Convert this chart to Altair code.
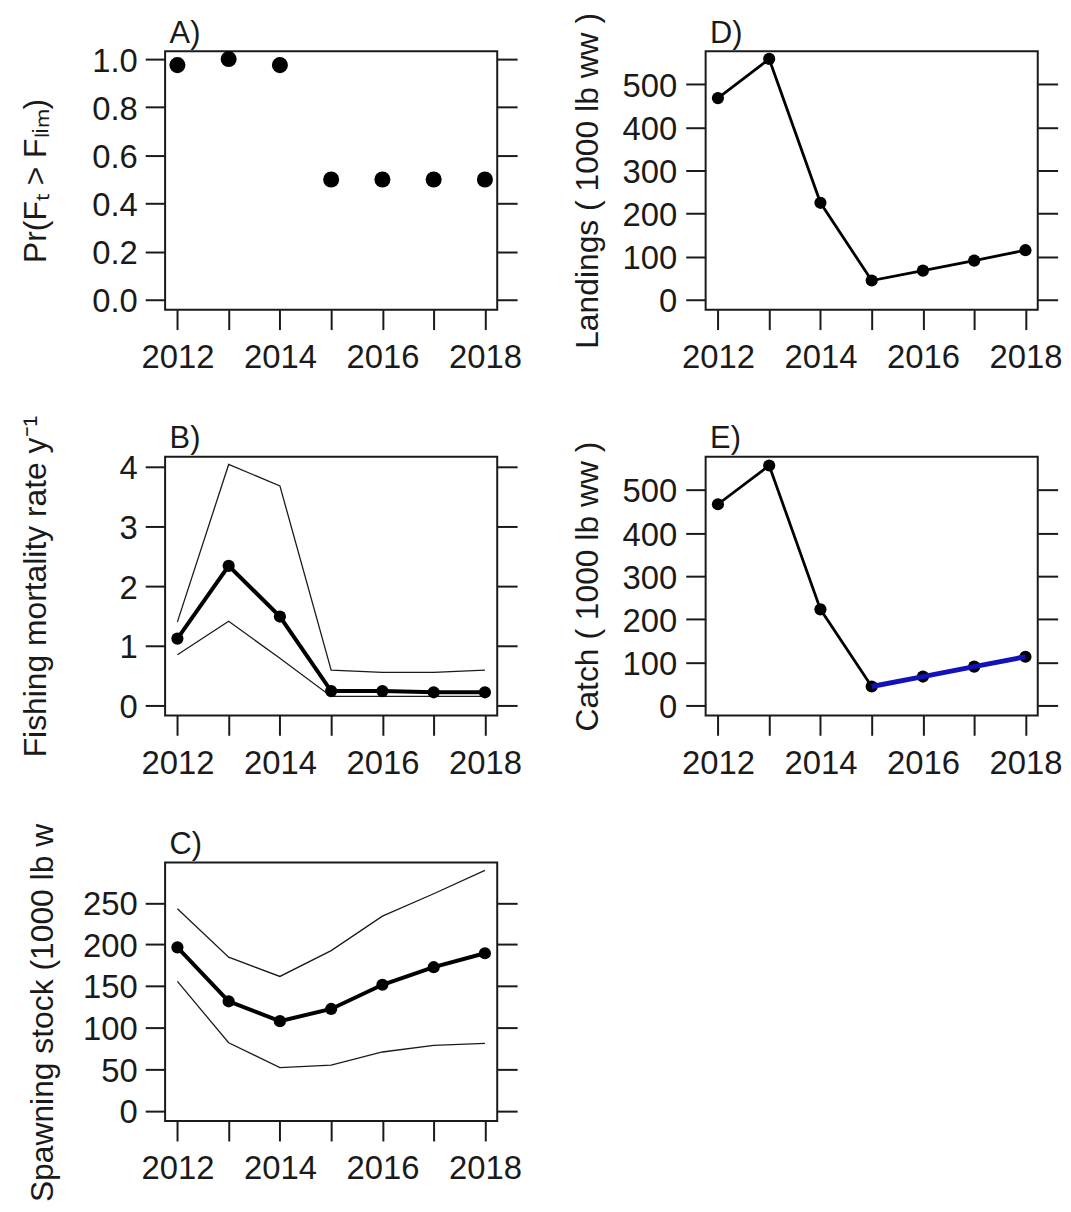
import altair as alt
import pandas as pd

# ---------------- data ----------------
years = [2012, 2013, 2014, 2015, 2016, 2017, 2018]
prob_f_over_flim = [0.975, 1.0, 0.975, 0.5, 0.5, 0.5, 0.5]
f_est = [1.12, 2.34, 1.49, 0.24, 0.24, 0.22, 0.22]
f_upper = [1.40, 4.04, 3.68, 0.59, 0.555, 0.555, 0.59]
f_lower = [0.85, 1.41, 0.79, 0.15, 0.15, 0.15, 0.15]
ssb_est = [196.5, 131.6, 107.7, 122.4, 151.5, 172.6, 189.4]
ssb_upper = [243.0, 184.6, 161.5, 192.6, 234.0, 261.0, 289.0]
ssb_lower = [155.5, 81.7, 51.8, 54.7, 70.6, 78.6, 81.0]
landings = [468, 559, 225, 44.6, 67.7, 90.8, 115]
catch = [467, 557, 223, 44, 67, 90, 113]
proj_years = [2015, 2016, 2017, 2018]

ticks_a = [0.0, 0.2, 0.4, 0.6, 0.8, 1.0]
ticks_b = [0, 1, 2, 3, 4]
ticks_c = [0, 50, 100, 150, 200, 250]
ticks_de = [0, 100, 200, 300, 400, 500]

FONT = "Liberation Sans"
INK = "#1a1a1a"
W, H = 334, 260
XDOM = [2011.76, 2018.24]
LBL = 33
TTL = 32


def xbottom():
    return alt.X(
        "year:Q",
        scale=alt.Scale(domain=XDOM, nice=False, zero=False),
        axis=alt.Axis(
            values=years, format="d",
            labelExpr="datum.value % 2 == 0 ? datum.label : ''",
            tickSize=20, tickWidth=2, tickColor=INK, domain=False, grid=False,
            labelFontSize=LBL, labelFont=FONT, labelColor=INK, labelPadding=12,
            labelOverlap=False, labelFlush=False, title=None,
        ),
    )


def xtop(panel_label):
    # top axis carries only the panel tag, like R's title(adj = 0)
    return alt.X(
        "year:Q",
        scale=alt.Scale(domain=XDOM, nice=False, zero=False),
        axis=alt.Axis(
            orient="top", labels=False, ticks=False, domain=False, grid=False,
            title=panel_label, titleFont=FONT, titleFontSize=31,
            titleFontWeight="normal", titleColor=INK, titleAngle=0,
            titleAlign="left", titleBaseline="alphabetic", titleX=4, titleY=-9,
        ),
    )


def xnone():
    return alt.X("year:Q", axis=None)


def yleft(field, dom, ticks, fmt, title, title_x, lp=8, title_y=None, title_align=None):
    ax = dict(
        values=ticks, format=fmt, tickSize=20, tickWidth=2, tickColor=INK,
        domain=False, grid=False, labelFontSize=LBL, labelFont=FONT,
        labelColor=INK, labelPadding=lp, labelBaseline="middle", labelOffset=2,
        labelOverlap=False, labelFlush=False,
        title=title, titleFont=FONT, titleFontSize=TTL, titleFontWeight="normal",
        titleColor=INK, titleAngle=270, titleBaseline="alphabetic", titleX=title_x,
    )
    if title_y is not None:
        ax["titleY"] = title_y
        ax["titleAlign"] = title_align
    return alt.Y(f"{field}:Q", scale=alt.Scale(domain=dom, nice=False, zero=False),
                 axis=alt.Axis(**ax))


def yright(field, dom, ticks):
    return alt.Y(
        f"{field}:Q", scale=alt.Scale(domain=dom, nice=False, zero=False),
        axis=alt.Axis(orient="right", values=ticks, labels=False, tickSize=20,
                      tickWidth=2, tickColor=INK, domain=False, grid=False, title=None),
    )


def ynone(field):
    return alt.Y(f"{field}:Q", axis=None)


def panel(*layers):
    return alt.layer(*layers).resolve_axis(x="independent", y="independent").properties(
        width=W, height=H)


dot = alt.OverlayMarkDef(filled=True, size=150, color="black", opacity=1)

# ---------------- panel A ----------------
dfA = pd.DataFrame({"year": years, "p": prob_f_over_flim})
domA = [-0.041, 1.033]
A = panel(
    alt.Chart(dfA).mark_circle(size=260, color="black", opacity=1).encode(
        x=xbottom(), y=yleft("p", domA, ticks_a, ".1f", "Pr(Fₜ > Fₗᵢₘ)", -120)),
    alt.Chart(dfA).mark_circle(opacity=0).encode(x=xtop("A)"), y=yright("p", domA, ticks_a)),
)

# ---------------- panel B ----------------
dfB = pd.DataFrame({"year": years, "est": f_est, "lo": f_lower, "hi": f_upper})
domB = [-0.167, 4.167]
B = panel(
    alt.Chart(dfB).mark_line(color=INK, strokeWidth=1.3).encode(
        x=xbottom(), y=yleft("hi", domB, ticks_b, "d", "Fishing mortality rate y⁻¹", -120)),
    alt.Chart(dfB).mark_line(color=INK, strokeWidth=1.3).encode(
        x=xtop("B)"), y=yright("lo", domB, ticks_b)),
    alt.Chart(dfB).mark_line(color="black", strokeWidth=4, point=dot).encode(
        x=xnone(), y=ynone("est")),
)

# ---------------- panel C ----------------
dfC = pd.DataFrame({"year": years, "est": ssb_est, "lo": ssb_lower, "hi": ssb_upper})
domC = [-12.5, 298.5]
C = panel(
    alt.Chart(dfC).mark_line(color=INK, strokeWidth=1.3).encode(
        x=xbottom(), y=yleft("hi", domC, ticks_c, "d", "Spawning stock (1000 lb w", -113,
                             title_y=341, title_align="left")),
    alt.Chart(dfC).mark_line(color=INK, strokeWidth=1.3).encode(
        x=xtop("C)"), y=yright("lo", domC, ticks_c)),
    alt.Chart(dfC).mark_line(color="black", strokeWidth=4, point=dot).encode(
        x=xnone(), y=ynone("est")),
)

# ---------------- panel D ----------------
dfD = pd.DataFrame({"year": years, "v": landings})
domDE = [-23.1, 577]
D = panel(
    alt.Chart(dfD).mark_line(color="black", strokeWidth=2.8, point=dot).encode(
        x=xbottom(), y=yleft("v", domDE, ticks_de, "d", "Landings ( 1000 lb ww )", -109, lp=9)),
    alt.Chart(dfD).mark_circle(opacity=0).encode(x=xtop("D)"), y=yright("v", domDE, ticks_de)),
)

# ---------------- panel E ----------------
dfE = pd.DataFrame({"year": years, "v": catch})
dfE_proj = dfE[dfE["year"].isin(proj_years)]
E = panel(
    alt.Chart(dfE).mark_line(color="black", strokeWidth=2.8, point=dot).encode(
        x=xbottom(), y=yleft("v", domDE, ticks_de, "d", "Catch ( 1000 lb ww )", -109, lp=9)),
    alt.Chart(dfE_proj).mark_line(color="#1212b8", strokeWidth=5).encode(
        x=xtop("E)"), y=yright("v", domDE, ticks_de)),
)

chart = alt.concat(
    A, D, B, E, C, columns=2, spacing={"row": 148, "column": 209.6}, bounds="flush"
).properties(
    padding={"left": 10, "top": 0, "right": 0, "bottom": 0},
    background="white",
).configure_view(stroke=INK, strokeWidth=2)

chart.save("out.html", embed_options={"renderer": "svg", "actions": False})
